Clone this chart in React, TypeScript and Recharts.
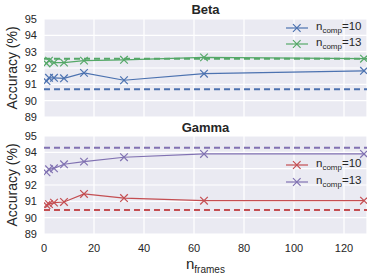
import React from "react";
import {
  LineChart,
  Line,
  XAxis,
  YAxis,
  CartesianGrid,
  ReferenceLine,
} from "recharts";

const frames = [1, 2, 4, 8, 16, 32, 64, 128];

const betaN10 = [91.2, 91.4, 91.4, 91.37, 91.7, 91.25, 91.65, 91.83];
const betaN13 = [92.28, 92.45, 92.33, 92.33, 92.45, 92.5, 92.65, 92.57];
const betaBaseN10 = 90.7;
const betaBaseN13 = 92.57;

const gammaN10 = [90.77, 90.83, 90.92, 90.96, 91.45, 91.2, 91.04, 91.04];
const gammaN13 = [92.78, 92.96, 93.02, 93.27, 93.43, 93.7, 93.9, 93.9];
const gammaBaseN10 = 90.47;
const gammaBaseN13 = 94.28;

const yTicks = [89, 90, 91, 92, 93, 94, 95];
const xTicks = [0, 20, 40, 60, 80, 100, 120];

const BLUE = "#4C72B0";
const GREEN = "#55A868";
const RED = "#C44E52";
const PURPLE = "#8172B2";
const TEXT = "#262626";
const FONT = "'Liberation Sans', Arial, sans-serif";
const PLOT_RIGHT = 367;

const betaData = frames.map((f, i) => ({ f, a: betaN10[i], b: betaN13[i] }));
const gammaData = frames.map((f, i) => ({ f, a: gammaN10[i], b: gammaN13[i] }));

// x marker, cut off at the right edge of the plot like matplotlib does
const XDot = (props: any) => {
  const { cx, cy, stroke, index } = props;
  if (cx == null || cy == null) return null;
  const r = 3.8;
  const right = Math.min(cx + r, PLOT_RIGHT);
  const d = right - cx;
  return (
    <g key={index}>
      <line x1={cx - r} y1={cy - r} x2={cx + d} y2={cy + d} stroke={stroke} strokeWidth={1.2} />
      <line x1={cx - r} y1={cy + r} x2={cx + d} y2={cy - d} stroke={stroke} strokeWidth={1.2} />
    </g>
  );
};

const LegendRow = ({ color, label, top }: { color: string; label: string; top: number }) => (
  <div style={{ position: "absolute", left: 286, top: top - 8, height: 16, display: "flex", alignItems: "center" }}>
    <svg width={22} height={16}>
      <line x1={0} y1={8} x2={22} y2={8} stroke={color} strokeWidth={1.2} />
      <line x1={7} y1={4.2} x2={14.6} y2={11.8} stroke={color} strokeWidth={1.2} />
      <line x1={7} y1={11.8} x2={14.6} y2={4.2} stroke={color} strokeWidth={1.2} />
    </svg>
    <span style={{ marginLeft: 8, fontSize: 11.5, color: TEXT, fontFamily: FONT, whiteSpace: "nowrap" }}>
      n<sub style={{ fontSize: 8 }}>comp</sub>={label}
    </span>
  </div>
);

const Panel = ({
  data,
  c1,
  c2,
  base1,
  base2,
  showX,
  height,
  top,
  bottom,
}: {
  data: any[];
  c1: string;
  c2: string;
  base1: number;
  base2: number;
  showX: boolean;
  height: number;
  top: number;
  bottom: number;
}) => (
  <LineChart
    width={374}
    height={height}
    data={data}
    margin={{ top, right: 7, left: 0, bottom }}
    style={{ fontFamily: FONT }}
  >
    <CartesianGrid fill="#EAEAF2" stroke="#FFFFFF" strokeWidth={1.2} />
    <XAxis
      dataKey="f"
      type="number"
      domain={[0, 129.2]}
      ticks={xTicks}
      interval={0}
      allowDataOverflow
      hide={!showX}
      axisLine={false}
      tickLine={false}
      tick={{ fill: TEXT, fontSize: 11 }}
      tickMargin={4}
      height={20}
    />
    <YAxis
      type="number"
      domain={[89, 95]}
      ticks={yTicks}
      interval={0}
      allowDataOverflow
      axisLine={false}
      tickLine={false}
      tick={{ fill: TEXT, fontSize: 11 }}
      width={44}
      tickMargin={1}
    />
    <ReferenceLine y={base1} stroke={c1} strokeWidth={2} strokeDasharray="6 4" />
    <ReferenceLine y={base2} stroke={c2} strokeWidth={2} strokeDasharray="6 4" />
    <Line dataKey="a" stroke={c1} strokeWidth={1.2} dot={<XDot />} isAnimationActive={false} />
    <Line dataKey="b" stroke={c2} strokeWidth={1.2} dot={<XDot />} isAnimationActive={false} />
  </LineChart>
);

const Title = ({ text, top }: { text: string; top: number }) => (
  <div
    style={{
      position: "absolute",
      left: 44,
      width: 323,
      top,
      textAlign: "center",
      fontFamily: FONT,
      fontWeight: "bold",
      fontSize: 13,
      color: TEXT,
    }}
  >
    {text}
  </div>
);

const YLabel = ({ centerY }: { centerY: number }) => (
  <div
    style={{
      position: "absolute",
      left: 12,
      top: centerY,
      transform: "translate(-50%, -50%) rotate(-90deg)",
      fontFamily: FONT,
      fontSize: 14,
      color: TEXT,
      whiteSpace: "nowrap",
    }}
  >
    Accuracy (%)
  </div>
);

export default function App() {
  return (
    <div style={{ position: "absolute", left: 0, top: 0, width: 374, height: 277, background: "#fff", overflow: "hidden" }}>
      <div style={{ position: "absolute", left: 0, top: 0 }}>
        <Panel data={betaData} c1={BLUE} c2={GREEN} base1={betaBaseN10} base2={betaBaseN13} showX={false} height={126} top={19} bottom={9} />
      </div>
      <div style={{ position: "absolute", left: 0, top: 120 }}>
        <Panel data={gammaData} c1={RED} c2={PURPLE} base1={gammaBaseN10} base2={gammaBaseN13} showX={true} height={157} top={16} bottom={23} />
      </div>
      <Title text="Beta" top={2} />
      <Title text="Gamma" top={120} />
      <YLabel centerY={68} />
      <YLabel centerY={185} />
      <LegendRow color={BLUE} label="10" top={28} />
      <LegendRow color={GREEN} label="13" top={44} />
      <LegendRow color={RED} label="10" top={165} />
      <LegendRow color={PURPLE} label="13" top={182} />
      <div
        style={{
          position: "absolute",
          left: 186,
          top: 255,
          fontFamily: FONT,
          fontSize: 15,
          color: TEXT,
          whiteSpace: "nowrap",
        }}
      >
        n<sub style={{ fontSize: 10 }}>frames</sub>
      </div>
    </div>
  );
}
